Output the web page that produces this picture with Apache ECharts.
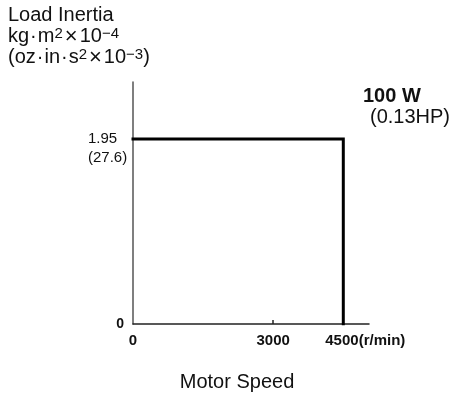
<!DOCTYPE html>
<html>
<head>
<meta charset="utf-8">
<script src="https://cdn.jsdelivr.net/npm/echarts@6/dist/echarts.min.js"></script>
<style>
  html, body { margin: 0; padding: 0; background: #fff; }
  #chart { width: 454px; height: 395px; }
</style>
</head>
<body>
<div id="chart"></div>
<script>
// Allowable load inertia versus motor speed for the 100 W motor
const speeds = [0, 4500, 4500];
const inertia = [1.95, 1.95, 0];

// Axis tick positions and their printed labels
const xTickValues = [0, 3000, 4500];
const xTickLabels = ['0', '3000', '4500'];
const xUnit = '(r/min)';
const yTickValues = [0, 1.95];
const yTickLabels = ['0', '1.95'];
const yTickLabelsOz = ['', '(27.6)'];

const ratingW = '100 W';
const ratingHp = '(0.13HP)';
const xTitle = 'Motor Speed';

const FONT = '"Liberation Sans", Arial, Helvetica, sans-serif';

const chart = echarts.init(document.getElementById('chart'), null, { renderer: 'canvas' });

function tickIndex(list, v) {
  return list.findIndex(t => Math.abs(t - v) < 1e-6);
}

chart.setOption({
  backgroundColor: '#fff',
  animation: false,
  title: {
    left: 8,
    top: 5,
    padding: 0,
    text: '{t|Load Inertia}\n' +
          '{t|kg}{d|·}{t|m}{s|2}{x|×}{t|10}{s|−4}\n' +
          '{t|(oz}{d|·}{t|in}{d|·}{t|s}{s|2}{x|×}{t|10}{s|−3}{t|)}',
    textStyle: {
      fontFamily: FONT,
      fontSize: 20,
      fontWeight: 'normal',
      color: '#111',
      lineHeight: 21,
      rich: {
        t: { fontFamily: FONT, fontSize: 20, color: '#111', lineHeight: 21 },
        d: { fontFamily: FONT, fontSize: 20, color: '#111', lineHeight: 21, padding: [0, 1, 0, 1] },
        x: { fontFamily: FONT, fontSize: 22, color: '#111', lineHeight: 21, padding: [0, 2, 0, 2] },
        s: { fontFamily: FONT, fontSize: 15, color: '#111', lineHeight: 15, verticalAlign: 'top' }
      }
    }
  },
  grid: { left: 133, right: 85, top: 82, bottom: 71 },
  xAxis: {
    type: 'value',
    min: 0,
    max: 5050,
    splitLine: { show: false },
    axisLine: { show: true, lineStyle: { color: '#222', width: 1.5 } },
    axisTick: {
      show: true,
      inside: true,
      length: 4,
      customValues: [3000],
      lineStyle: { color: '#222', width: 1.5 }
    },
    axisLabel: {
      show: true,
      margin: 9,
      customValues: xTickValues,
      fontFamily: FONT,
      fontSize: 15,
      fontWeight: 'bold',
      color: '#111',
      formatter: function (v) {
        const i = tickIndex(xTickValues, v);
        if (i < 0) return '';
        if (i === xTickValues.length - 1) {
          return '{p|}{b|' + xTickLabels[i] + '}{b|' + xUnit + '}';
        }
        return '{b|' + xTickLabels[i] + '}';
      },
      rich: {
        b: { fontFamily: FONT, fontSize: 15, fontWeight: 'bold', color: '#111' },
        p: { width: 44 }
      }
    }
  },
  yAxis: {
    type: 'value',
    min: 0,
    max: 2.55,
    splitLine: { show: false },
    axisLine: { show: true, lineStyle: { color: '#555', width: 1.5 } },
    axisTick: { show: false },
    axisLabel: {
      show: true,
      margin: 9,
      align: 'right',
      customValues: yTickValues,
      fontFamily: FONT,
      fontSize: 15,
      color: '#111',
      formatter: function (v) {
        const i = tickIndex(yTickValues, v);
        if (i < 0) return '';
        if (yTickLabelsOz[i]) {
          return '{n| }\n{n|' + yTickLabels[i] + '}\n{n|' + yTickLabelsOz[i] + '}';
        }
        return '{z|' + yTickLabels[i] + '}';
      },
      rich: {
        z: { fontFamily: FONT, fontSize: 14, fontWeight: 'bold', color: '#111' },
        n: { fontFamily: FONT, fontSize: 15, color: '#111', lineHeight: 19, width: 36, align: 'left' }
      }
    }
  },
  series: [{
    type: 'line',
    data: speeds.map((s, i) => [s, inertia[i]]),
    showSymbol: false,
    symbol: 'none',
    lineStyle: { color: '#000', width: 3, cap: 'square', join: 'miter' },
    silent: true
  }],
  graphic: [
    {
      type: 'text',
      x: 363, y: 86,
      style: { text: ratingW, font: 'bold 20px ' + FONT, fill: '#111', textVerticalAlign: 'top' }
    },
    {
      type: 'text',
      x: 370, y: 107,
      style: { text: ratingHp, font: '20px ' + FONT, fill: '#111', textVerticalAlign: 'top' }
    },
    {
      type: 'text',
      x: 237, y: 372,
      style: { text: xTitle, font: '20px ' + FONT, fill: '#111', textAlign: 'center', textVerticalAlign: 'top' }
    }
  ]
});
</script>
</body>
</html>
